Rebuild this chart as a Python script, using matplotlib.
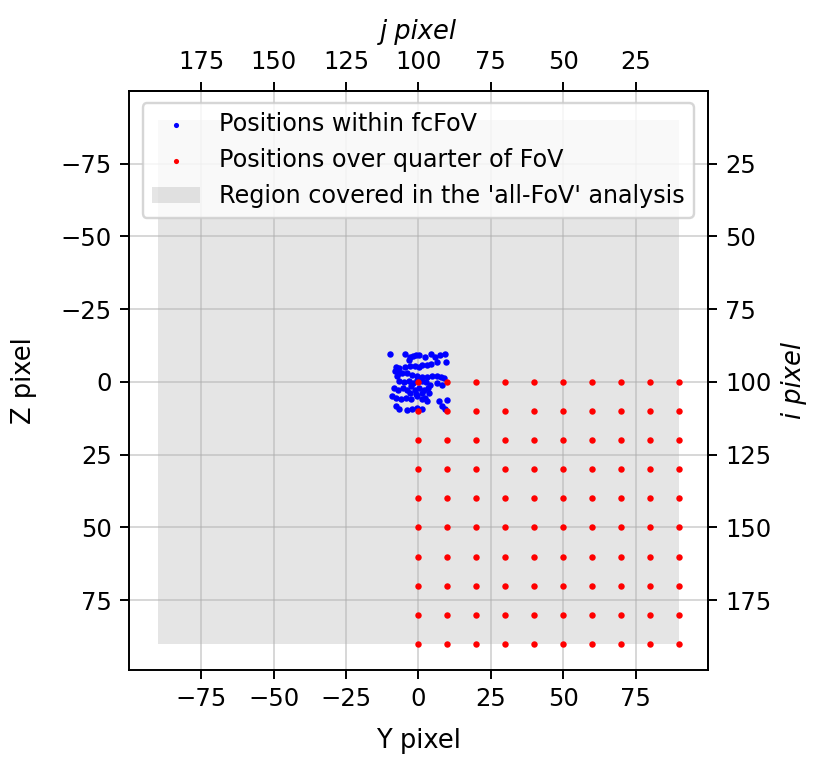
import numpy as np
import matplotlib.pyplot as plt
from matplotlib.patches import Rectangle

# posisi dalam fcFoV
blue_y = [-9.9, -4.5, -3.0, -2.0, -1.0, 0.3, 2.2, 4.2, 5.6, 7.6, 9.1, 9.5,
          -7.9, -6.6, -4.7, -2.8, -1.3, 0.1, 1.3, 3.0, 4.5, 6.4, -3.3,
          -8.2, -6.8, -7.4, -5.6, -3.9, -2.2, -0.5, 1.3, 3.0, 4.7, 6.4, 7.9, 8.7,
          -6.8, -5.1, -3.3, -2.0, -0.5, 1.3, 2.6, 4.1, 6.4, 8.2,
          -8.5, -7.0, -5.4, -3.9, -2.4, -1.3, 0.1, 1.8, 3.3,
          -2.8, -1.0, 1.3, 3.6,
          -9.1, -7.7, -5.9, -4.3, -2.4, -0.5, 1.3, 2.4, 3.0, 7.0, 9.9,
          -7.7, -6.8, -3.9, -2.2, -0.5, 1.3, 8.2, 9.3]
blue_z = [-9.7, -9.7, -8.5, -8.8, -9.1, -9.1, -8.5, -9.5, -8.5, -9.3, -9.5, -6.7,
          -5.3, -4.8, -5.3, -5.6, -5.6, -5.3, -5.8, -5.9, -6.1, -7.0, -7.4,
          -3.6, -3.1, -1.9, -3.1, -3.1, -2.5, -1.9, -1.7, -1.7, -1.9, -2.2, -1.7, -1.4,
          -0.2, 0.1, -0.2, 0.3, -0.6, -0.2, 0.1, 0.9, 0.3, 0.9,
          2.0, 2.6, 2.0, 2.6, 1.5, 2.6, 2.0, 2.6, 2.0,
          3.8, 4.0, 3.8, 3.8,
          4.9, 5.5, 5.8, 5.5, 5.8, 4.9, 6.0, 5.5, 6.6, 6.6, 6.3,
          8.3, 9.4, 9.7, 9.4, 8.9, 9.4, 8.3, 9.2]

# grid posisi seperempat FoV
red_steps = [0, 10, 20, 30, 40, 50, 60, 70, 80, 90]
red_y, red_z = np.meshgrid(red_steps, red_steps)

region_min = -90
region_max = 90

fig, ax = plt.subplots(figsize=(831 / 175, 771 / 175), dpi=175)
fig.subplots_adjust(left=0.155, right=0.852, top=0.882, bottom=0.131)

region = Rectangle((region_min, region_min), region_max - region_min,
                   region_max - region_min, color='gray', alpha=0.2,
                   lw=0, label="Region covered in the 'all-FoV' analysis")
ax.add_patch(region)
sc_blue = ax.scatter(blue_y, blue_z, s=7, color='blue', lw=0,
                     label='Positions within fcFoV', zorder=3)
sc_red = ax.scatter(red_y.ravel(), red_z.ravel(), s=7, color='red', lw=0,
                    label='Positions over quarter of FoV', zorder=4)

ax.set_xlim(-100, 100)
ax.set_ylim(99, -100)
ax.set_xticks([-75, -50, -25, 0, 25, 50, 75])
ax.set_yticks([-75, -50, -25, 0, 25, 50, 75])
ax.grid(True, alpha=0.5)
ax.set_xlabel('Y pixel', fontsize=10.6, labelpad=7)
ax.set_ylabel('Z pixel', fontsize=10.6, labelpad=9.5)

top = ax.secondary_xaxis('top', functions=(lambda x: 100 - x, lambda j: 100 - j))
top.set_xticks([25, 50, 75, 100, 125, 150, 175])
top.set_xlabel('j pixel', style='italic', fontsize=10.6, labelpad=4.5)
right = ax.secondary_yaxis('right', functions=(lambda y: y + 100, lambda i: i - 100))
right.set_yticks([25, 50, 75, 100, 125, 150, 175])
right.set_ylabel('i pixel', style='italic', fontsize=10.6)

ax.legend(handles=[sc_blue, sc_red, region], loc='upper center', fontsize=9.8,
          markerscale=0.8)

plt.savefig('out.png')
